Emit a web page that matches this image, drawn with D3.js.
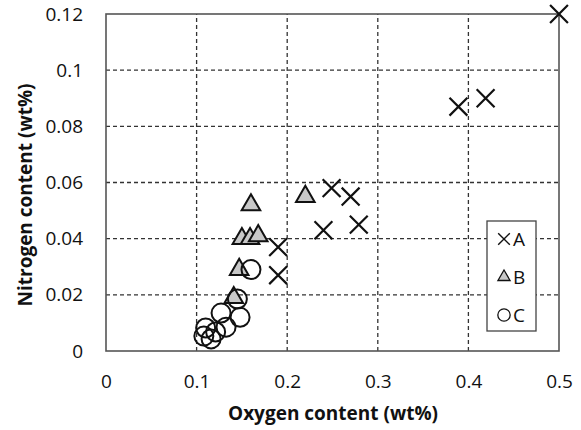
<!DOCTYPE html>
<html>
<head>
<meta charset="utf-8">
<script src="https://cdn.jsdelivr.net/npm/d3@7"></script>
<style>
  body { margin: 0; background: #fff; }
  text { font-family: "Open Sans", "Liberation Sans", sans-serif; fill: #111; }
</style>
</head>
<body>
<div id="chart"></div>
<script>
// data: [oxygen wt%, nitrogen wt%]
const seriesA = [
  [0.5, 0.12], [0.389, 0.087], [0.419, 0.090], [0.249, 0.058], [0.270, 0.055],
  [0.240, 0.043], [0.279, 0.045], [0.190, 0.037], [0.190, 0.027]
];
const seriesB = [
  [0.220, 0.055], [0.160, 0.052], [0.150, 0.040], [0.159, 0.040], [0.168, 0.041],
  [0.147, 0.029], [0.141, 0.019]
];
const seriesC = [
  [0.160, 0.029], [0.145, 0.0185], [0.127, 0.0135], [0.148, 0.012], [0.1325, 0.0085],
  [0.110, 0.0082], [0.108, 0.0053], [0.116, 0.0043], [0.121, 0.0068]
];
const legendNames = ['A', 'B', 'C'];
const xTicks = [0, 0.1, 0.2, 0.3, 0.4, 0.5];
const yTicks = [0, 0.02, 0.04, 0.06, 0.08, 0.1, 0.12];

const width = 581, height = 430;
const margin = { left: 106, right: 22, top: 14, bottom: 79 };

const svg = d3.select('#chart').append('svg')
  .attr('width', width)
  .attr('height', height);

const x = d3.scaleLinear().domain([0, 0.5]).range([margin.left, width - margin.right]);
const y = d3.scaleLinear().domain([0, 0.12]).range([height - margin.bottom, margin.top]);

// dashed grid
svg.append('g')
  .selectAll('line.v')
  .data(xTicks.slice(1, -1))
  .enter().append('line')
  .attr('x1', d => x(d)).attr('x2', d => x(d))
  .attr('y1', y(0)).attr('y2', y(0.12))
  .attr('stroke', '#333').attr('stroke-width', 1.3).attr('stroke-dasharray', '4,3');

svg.append('g')
  .selectAll('line.h')
  .data(yTicks.slice(1, -1))
  .enter().append('line')
  .attr('x1', x(0)).attr('x2', x(0.5))
  .attr('y1', d => y(d)).attr('y2', d => y(d))
  .attr('stroke', '#333').attr('stroke-width', 1.3).attr('stroke-dasharray', '4,3');

// frame
svg.append('rect')
  .attr('x', x(0)).attr('y', y(0.12))
  .attr('width', x(0.5) - x(0)).attr('height', y(0) - y(0.12))
  .attr('fill', 'none').attr('stroke', '#555').attr('stroke-width', 1.6);

// axes (labels only)
const xAxis = d3.axisBottom(x).tickValues(xTicks).tickFormat(d3.format('')).tickSize(0).tickPadding(24);
const gx = svg.append('g').attr('transform', `translate(0,${y(0)})`).call(xAxis);
gx.select('.domain').remove();
gx.selectAll('text').style('font-size', '19px').attr('fill', '#111');

const yAxis = d3.axisLeft(y).tickValues(yTicks).tickFormat(d3.format('')).tickSize(0).tickPadding(23);
const gy = svg.append('g').attr('transform', `translate(${x(0)},0)`).call(yAxis);
gy.select('.domain').remove();
gy.selectAll('text').style('font-size', '19px').attr('fill', '#111');

// axis titles
svg.append('text')
  .attr('x', 333).attr('y', 420)
  .attr('text-anchor', 'middle')
  .style('font-size', '19px').style('font-weight', 'bold')
  .text('Oxygen content (wt%)');

svg.append('text')
  .attr('transform', 'translate(32,195) rotate(-90)')
  .attr('text-anchor', 'middle')
  .style('font-size', '19px').style('font-weight', 'bold')
  .text('Nitrogen content (wt%)');

// marker shapes
const cross = d3.symbol().type(d3.symbolX).size(210);
const tri = d3.symbol().type(d3.symbolTriangle).size(150);

function drawA(sel) {
  sel.append('path').attr('d', cross)
    .attr('fill', 'none').attr('stroke', '#111').attr('stroke-width', 2.2);
}
function drawB(sel) {
  sel.append('path').attr('d', tri)
    .attr('fill', '#c8c8c8').attr('stroke', '#111').attr('stroke-width', 2);
}
function drawC(sel) {
  sel.append('circle').attr('r', 9.5)
    .attr('fill', 'none').attr('stroke', '#111').attr('stroke-width', 2);
}

const pts = svg.append('g');
pts.selectAll('g.a').data(seriesA).enter().append('g')
  .attr('transform', d => `translate(${x(d[0])},${y(d[1])})`).call(drawA);
pts.selectAll('g.b').data(seriesB).enter().append('g')
  .attr('transform', d => `translate(${x(d[0])},${y(d[1])})`).call(drawB);
pts.selectAll('g.c').data(seriesC).enter().append('g')
  .attr('transform', d => `translate(${x(d[0])},${y(d[1])})`).call(drawC);

// legend
const lg = svg.append('g').attr('transform', 'translate(487,221)');
lg.append('rect').attr('width', 49).attr('height', 110)
  .attr('fill', '#fff').attr('stroke', '#444').attr('stroke-width', 1.3);

const drawers = [drawA, drawB, drawC];
legendNames.forEach((name, i) => {
  const row = lg.append('g').attr('transform', `translate(17,${18 + i * 38})`);
  const m = row.append('g').attr('transform', 'scale(0.65)');
  drawers[i](m);
  row.append('text').attr('x', 9).attr('y', 6.5)
    .style('font-size', '19px').text(name);
});
</script>
</body>
</html>
